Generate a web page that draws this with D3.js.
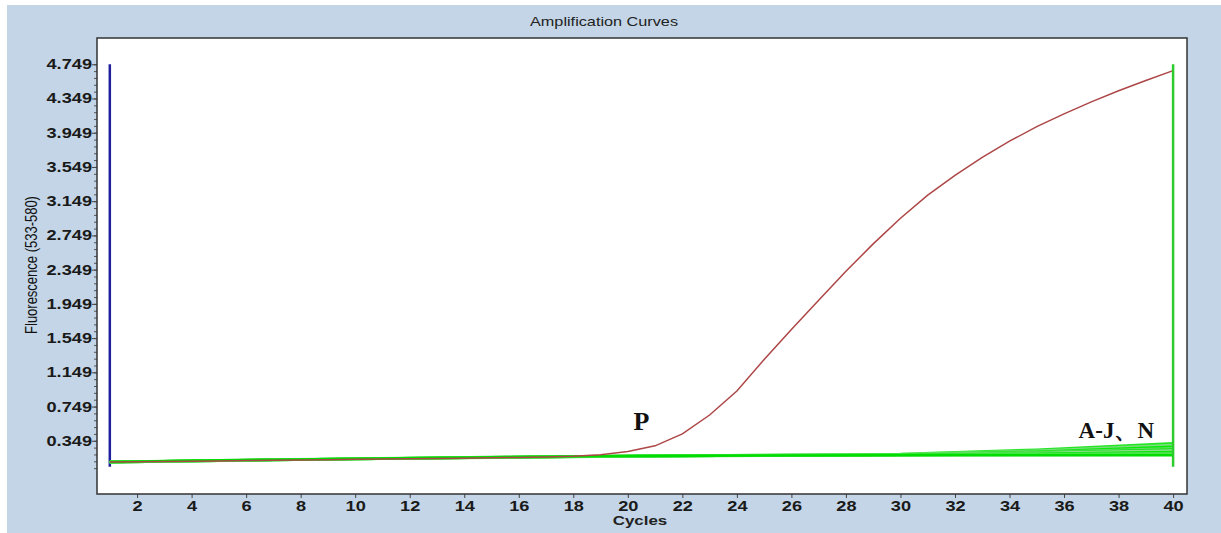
<!DOCTYPE html>
<html>
<head>
<meta charset="utf-8">
<script src="https://cdn.jsdelivr.net/npm/d3@7"></script>
<style>
  body { margin: 0; background: #fff; }
  svg { display: block; }
</style>
</head>
<body>
<div id="chart"></div>
<script>
    // Data
    const cycles = [1,2,3,4,5,6,7,8,9,10,11,12,13,14,15,16,17,18,19,20,
                    21,22,23,24,25,26,27,28,29,30,31,32,33,34,35,36,37,38,39,40];
    const sampleP = [0.100,0.103,0.107,0.110,0.114,0.118,0.121,0.125,0.128,0.132,
                     0.135,0.139,0.142,0.146,0.150,0.155,0.160,0.168,0.185,0.225,
                     0.290,0.430,0.650,0.930,1.300,1.650,1.990,2.330,2.650,2.950,
                     3.220,3.450,3.660,3.850,4.020,4.170,4.310,4.440,4.560,4.675];

    // negative samples, read at a few cycles (nearly straight lines)
    const negCycles = [1,5,10,15,20,25,30,35,40];
    const negNames = ["A","B","C","D","E","F","G","H","I","J","N"];
    const negValues = [
        [0.100,0.118,0.138,0.156,0.172,0.182,0.195,0.245,0.320],
        [0.102,0.120,0.140,0.158,0.170,0.180,0.192,0.232,0.300],
        [0.098,0.116,0.137,0.154,0.168,0.178,0.188,0.222,0.280],
        [0.101,0.119,0.139,0.157,0.171,0.181,0.190,0.215,0.262],
        [0.099,0.117,0.136,0.153,0.167,0.177,0.186,0.208,0.248],
        [0.103,0.121,0.141,0.159,0.173,0.183,0.191,0.205,0.235],
        [0.100,0.118,0.137,0.155,0.169,0.178,0.185,0.198,0.218],
        [0.097,0.115,0.135,0.152,0.166,0.175,0.183,0.192,0.205],
        [0.101,0.119,0.138,0.156,0.170,0.179,0.184,0.188,0.195],
        [0.099,0.117,0.136,0.154,0.168,0.176,0.180,0.183,0.186],
        [0.102,0.120,0.139,0.157,0.171,0.178,0.179,0.180,0.180]
    ];

    const yTicks = [0.349,0.749,1.149,1.549,1.949,2.349,2.749,3.149,3.549,3.949,4.349,4.749];
    const xTicks = [2,4,6,8,10,12,14,16,18,20,22,24,26,28,30,32,34,36,38,40];
    const rangeStart = 1, rangeEnd = 40;        // analysis window markers
    const markerLow = 0.046, markerHigh = 4.749;

    // Layout
    const W = 1221, H = 533;
    const margin = { top: 38, right: 34, bottom: 39, left: 97 };
    const width = W - margin.left - margin.right;
    const height = H - margin.top - margin.bottom;
    const sx = 1.3;   // the source image is stretched horizontally

    const svg = d3.select("#chart")
        .append("svg")
        .attr("width", W)
        .attr("height", H)
        .style("font-family", "'Liberation Sans', Arial, sans-serif");

    svg.append("rect")
        .attr("x", 7).attr("y", 5)
        .attr("width", W - 7).attr("height", H - 5)
        .attr("fill", "#c3d5e6");

    const x = d3.scaleLinear().domain([0.53, 40.51]).range([0, width]);
    const y = d3.scaleLinear().domain([-0.273, 5.056]).range([height, 0]);

    const g = svg.append("g")
        .attr("transform", `translate(${margin.left},${margin.top})`);

    g.append("rect")
        .attr("width", width).attr("height", height)
        .attr("fill", "#fff");

    // Y axis with minor ticks
    const minor = d3.range(0, 60).map(i => +(0.029 + i * 0.08).toFixed(3)).filter(v => v <= 4.75);
    g.append("g")
        .call(d3.axisLeft(y).tickValues(minor).tickSize(3).tickFormat(""))
        .call(a => a.select(".domain").remove())
        .selectAll("line").attr("stroke", "#555");

    const yAxis = g.append("g")
        .call(d3.axisLeft(y).tickValues(yTicks).tickSize(5).tickPadding(4).tickFormat(d3.format(".3f")));
    yAxis.select(".domain").remove();
    yAxis.selectAll("line").attr("stroke", "#444");
    yAxis.selectAll("text")
        .attr("x", -5 / sx)
        .attr("transform", `scale(${sx},1)`)
        .style("font-size", "14px")
        .style("font-weight", "bold")
        .attr("fill", "#1a1a1a");

    // X axis
    const xAxis = g.append("g")
        .attr("transform", `translate(0,${height})`)
        .call(d3.axisBottom(x).tickValues(xTicks).tickSize(4).tickPadding(3));
    xAxis.select(".domain").remove();
    xAxis.selectAll("line").attr("stroke", "#444");
    xAxis.selectAll("text")
        .attr("transform", `scale(${sx},1)`)
        .style("font-size", "14px")
        .style("font-weight", "bold")
        .attr("fill", "#1a1a1a");

    // Analysis window markers
    g.append("line")
        .attr("x1", x(rangeStart)).attr("x2", x(rangeStart))
        .attr("y1", y(markerLow)).attr("y2", y(markerHigh))
        .attr("stroke", "#1f1f9e").attr("stroke-width", 2.5);

    // Negative curves
    const line = d3.line().x(d => x(d[0])).y(d => y(d[1]));
    const greens = ["#22e622", "#7ddc7d", "#00ee00", "#66d966", "#11e011",
                    "#8ee08e", "#00e600", "#55dd55", "#22ee22", "#77dd77", "#00dd00"];
    negValues.forEach((vals, i) => {
        g.append("path")
            .datum(negCycles.map((c, j) => [c, vals[j]]))
            .attr("class", "neg " + negNames[i])
            .attr("fill", "none")
            .attr("stroke", greens[i])
            .attr("stroke-width", 2.5)
            .attr("d", line);
    });

    // Positive sample P
    g.append("path")
        .datum(cycles.map((c, i) => [c, sampleP[i]]))
        .attr("fill", "none")
        .attr("stroke", "#ad4646")
        .attr("stroke-width", 1.5)
        .attr("d", line);

    g.append("line")
        .attr("x1", x(rangeEnd)).attr("x2", x(rangeEnd))
        .attr("y1", y(markerLow)).attr("y2", y(markerHigh))
        .attr("stroke", "#2ccc2c").attr("stroke-width", 2.5);

    // Frame
    g.append("rect")
        .attr("width", width).attr("height", height)
        .attr("fill", "none")
        .attr("stroke", "#333").attr("stroke-width", 1.5);

    // Labels
    svg.append("text")
        .attr("transform", `translate(604,26) scale(${sx},1)`)
        .attr("text-anchor", "middle")
        .style("font-size", "12.5px")
        .attr("fill", "#222")
        .text("Amplification Curves");

    svg.append("text")
        .attr("transform", `translate(640,525) scale(${sx},1)`)
        .attr("text-anchor", "middle")
        .style("font-size", "13px")
        .style("font-weight", "bold")
        .attr("fill", "#222")
        .text("Cycles");

    svg.append("text")
        .attr("transform", `translate(37,265) scale(${sx},1) rotate(-90)`)
        .attr("text-anchor", "middle")
        .style("font-size", "13px")
        .attr("fill", "#111")
        .text("Fluorescence (533-580)");

    g.append("text")
        .attr("x", x(20.5)).attr("y", y(0.349) - 11)
        .attr("text-anchor", "middle")
        .style("font-family", "'Liberation Serif', 'Times New Roman', serif")
        .style("font-size", "26px")
        .style("font-weight", "bold")
        .attr("fill", "#111")
        .text("P");

    g.append("text")
        .attr("x", x(39.3)).attr("y", y(0.349) - 3)
        .attr("text-anchor", "end")
        .style("font-family", "'Liberation Serif', 'Times New Roman', serif")
        .style("font-size", "23px")
        .style("font-weight", "bold")
        .attr("fill", "#111")
        .text("A-J、N");
</script>
</body>
</html>
